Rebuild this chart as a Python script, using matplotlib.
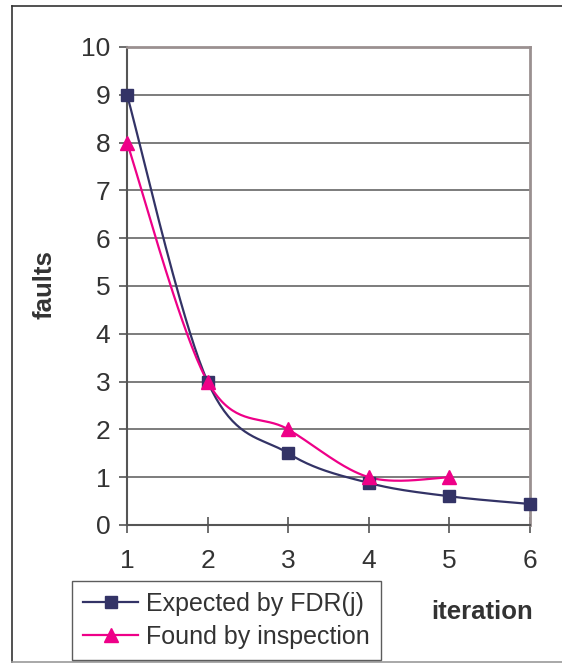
import numpy as np
import matplotlib
matplotlib.use("Agg")
import matplotlib.pyplot as plt
from matplotlib.lines import Line2D

plt.rcParams['font.family'] = ['Liberation Sans', 'DejaVu Sans']

# Data
iterations_expected = [1, 2, 3, 4, 5, 6]
expected_faults = [9, 3, 1.5, 0.88, 0.6, 0.44]
iterations_found = [1, 2, 3, 4, 5]
found_faults = [8, 3, 2, 1, 1]
y_ticks = [0, 1, 2, 3, 4, 5, 6, 7, 8, 9, 10]
x_ticks = [1, 2, 3, 4, 5, 6]

NAVY = '#333366'
PINK = '#ee0088'
TEXT = '#333333'


def smooth(xs, ys, n=40):
    """Catmull-Rom style Bezier smoothing through the given points."""
    xs = np.asarray(xs, float)
    ys = np.asarray(ys, float)
    px = np.concatenate([[xs[0]], xs, [xs[-1]]])
    py = np.concatenate([[ys[0]], ys, [ys[-1]]])
    out_x, out_y = [], []
    t = np.linspace(0, 1, n)
    for i in range(1, len(px) - 2):
        p0 = np.array([px[i], py[i]])
        p3 = np.array([px[i + 1], py[i + 1]])
        c1 = p0 + (np.array([px[i + 1], py[i + 1]]) - np.array([px[i - 1], py[i - 1]])) / 6
        c2 = p3 - (np.array([px[i + 2], py[i + 2]]) - np.array([px[i], py[i]])) / 6
        b = ((1 - t) ** 3)[:, None] * p0 + (3 * (1 - t) ** 2 * t)[:, None] * c1 \
            + (3 * (1 - t) * t ** 2)[:, None] * c2 + (t ** 3)[:, None] * p3
        out_x.extend(b[:, 0])
        out_y.extend(b[:, 1])
    return out_x, out_y


fig = plt.figure(figsize=(5.62, 6.64), dpi=100)
ax = fig.add_axes([127 / 562, 1 - 525 / 664, (530 - 127) / 562, (525 - 47) / 664])

ax.set_xlim(1, 6)
ax.set_ylim(0, 10)
ax.set_yticks(y_ticks)
ax.set_xticks(x_ticks)
ax.yaxis.grid(True, color='#666666', linewidth=1.2)
ax.set_axisbelow(True)

ex, ey = smooth(iterations_expected, expected_faults)
fx, fy = smooth(iterations_found, found_faults)
ax.plot(ex, ey, color=NAVY, linewidth=1.6, zorder=3, clip_on=False)
ax.plot(fx, fy, color=PINK, linewidth=1.6, zorder=3, clip_on=False)
ax.plot(iterations_expected, expected_faults, linestyle='none', marker='s',
        markersize=9, color=NAVY, zorder=4, clip_on=False)
ax.plot(iterations_found, found_faults, linestyle='none', marker='^',
        markersize=10, color=PINK, zorder=5, clip_on=False)

for side in ('left', 'bottom'):
    ax.spines[side].set_color('#555555')
    ax.spines[side].set_linewidth(1.5)
for side in ('top', 'right'):
    ax.spines[side].set_color('#9a9090')
    ax.spines[side].set_linewidth(2)

ax.tick_params(axis='y', direction='out', length=6, width=1.2, color='#555555',
               labelsize=19, labelcolor=TEXT, pad=6)
ax.tick_params(axis='x', direction='inout', length=11, width=1.2, color='#555555',
               labelsize=19, labelcolor=TEXT, pad=12)

fig.text(45 / 562, 1 - 285 / 664, 'faults', rotation=90, fontsize=18.5,
         fontweight='bold', color=TEXT, ha='center', va='center')
fig.text(482 / 562, 1 - 612 / 664, 'iteration', fontsize=18.5,
         fontweight='bold', color=TEXT, ha='center', va='center')

handles = [
    Line2D([], [], color=NAVY, linewidth=1.6, marker='s', markersize=9),
    Line2D([], [], color=PINK, linewidth=1.6, marker='^', markersize=10),
]
leg = fig.legend(handles, ['Expected by FDR(j)', 'Found by inspection'],
                 loc='lower left', bbox_to_anchor=(72 / 562, 4 / 664),
                 borderaxespad=0, fontsize=18, handlelength=2.2,
                 handletextpad=0.3, labelspacing=0.35, borderpad=0.45,
                 fancybox=False, frameon=True, labelcolor=TEXT)
leg.get_frame().set_edgecolor('#333333')
leg.get_frame().set_linewidth(1.0)

# Outer chart-area border (left, top, bottom)
fig.add_artist(Line2D([12 / 562, 12 / 562], [1 - 662 / 664, 1 - 6 / 664],
                      transform=fig.transFigure, color='#333333', linewidth=1.2))
fig.add_artist(Line2D([12 / 562, 1], [1 - 6 / 664, 1 - 6 / 664],
                      transform=fig.transFigure, color='#333333', linewidth=1.2))
fig.add_artist(Line2D([12 / 562, 1], [1 - 662 / 664, 1 - 662 / 664],
                      transform=fig.transFigure, color='#999999', linewidth=1.2))

fig.savefig('out.png', dpi=100)
